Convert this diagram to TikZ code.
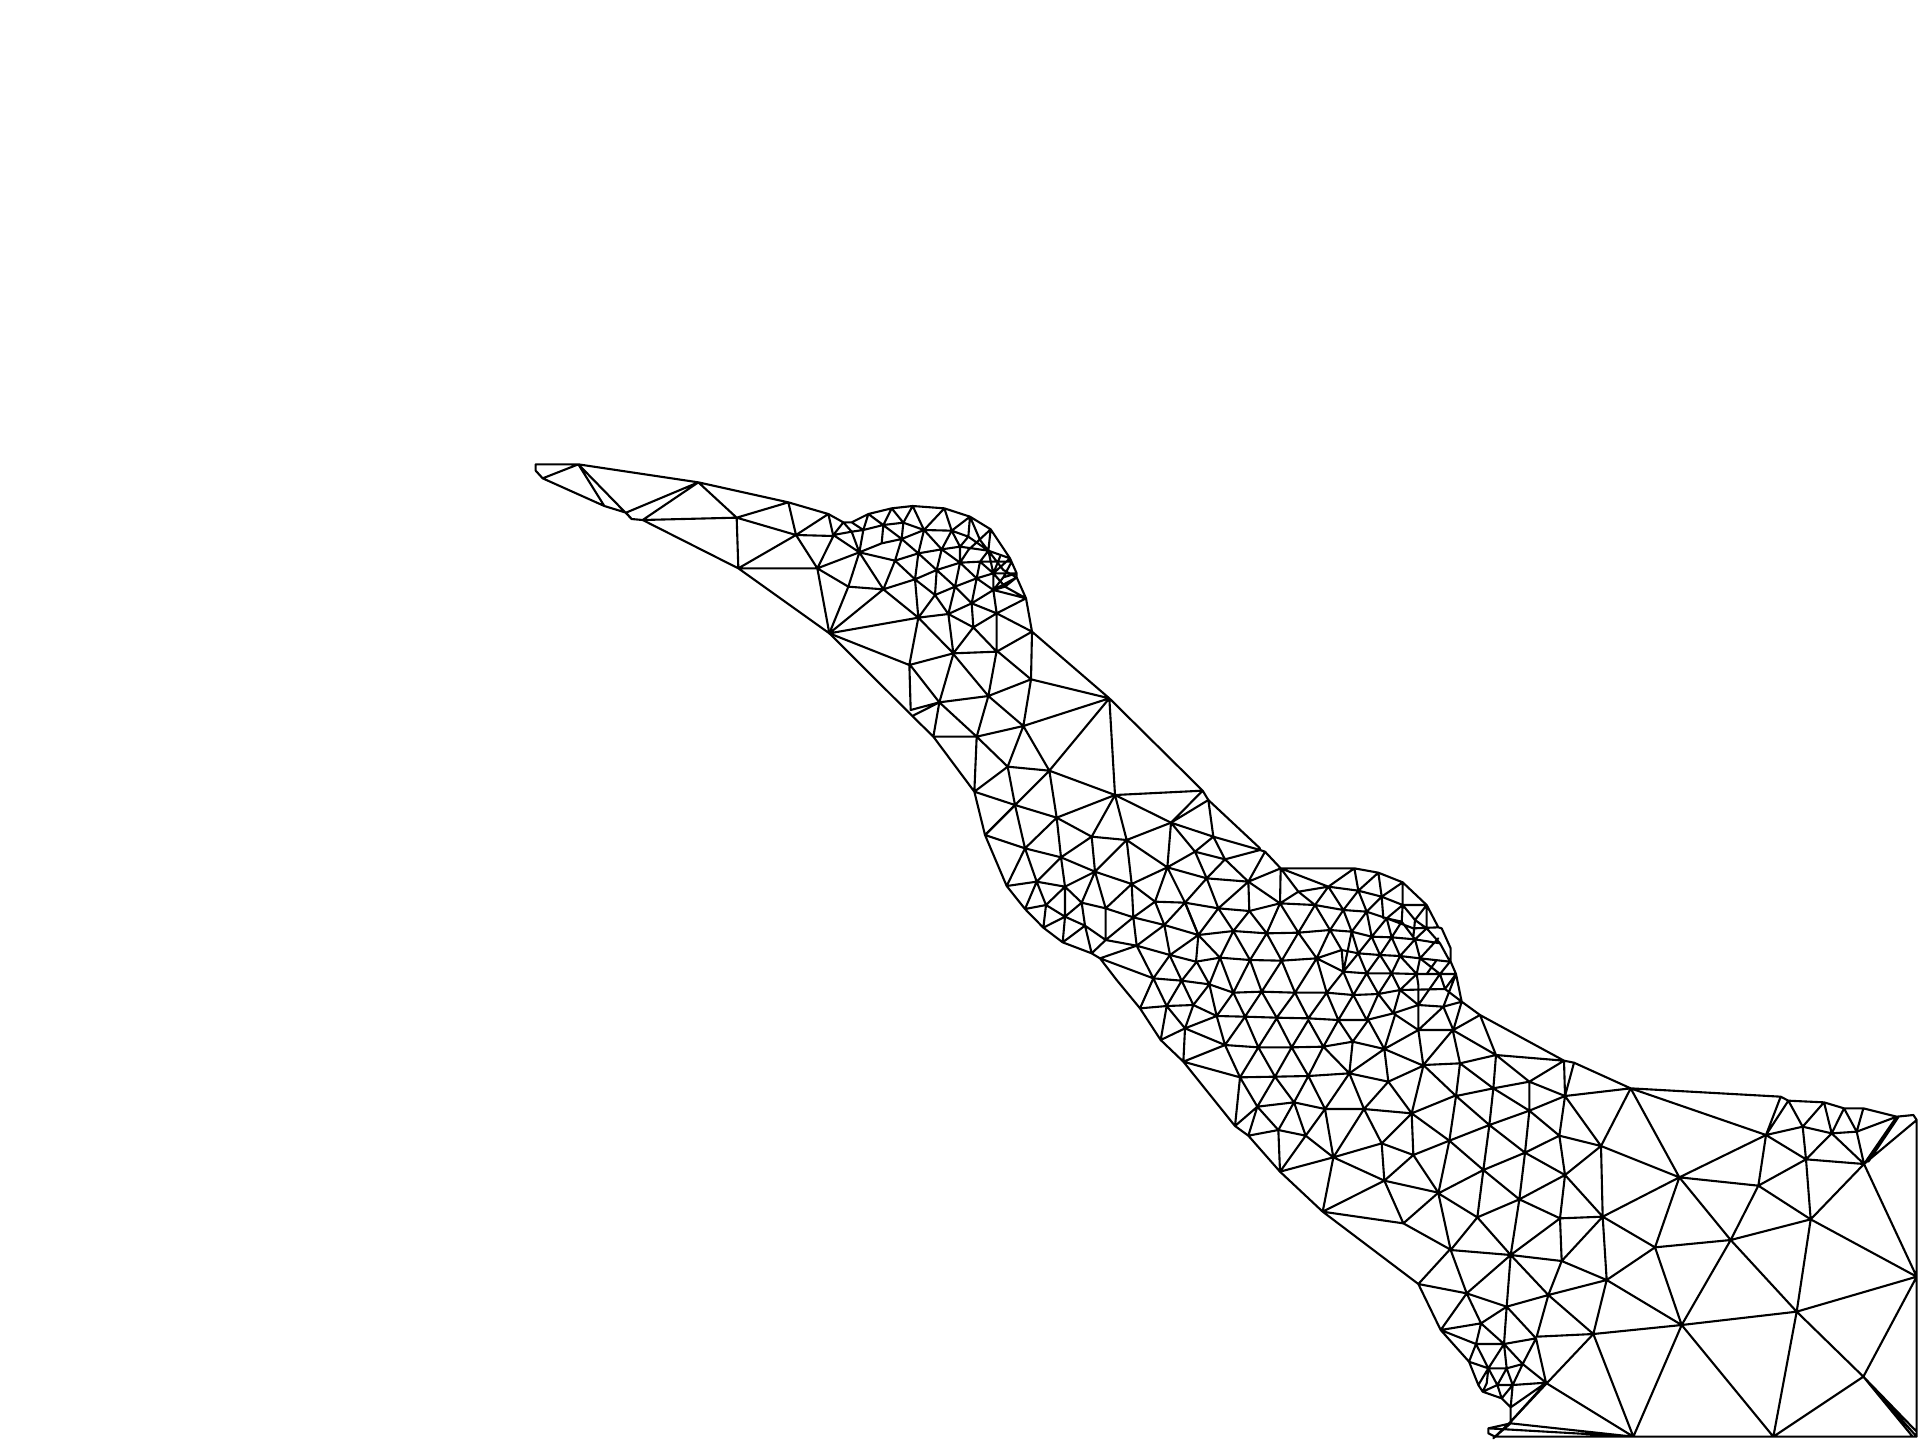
\documentclass[tikz,border=0pt]{standalone}
\tikzset{meshline/.style={draw=black,line width=1.05pt,line join=round,line cap=round},
 zone/.style={shift={(#1)},scale=0.33333}}
\begin{document}
\begin{tikzpicture}[x=0.5pt,y=-0.5pt]
\useasboundingbox[fill=white] (0,0) rectangle (1920,1440);
% Z1
\begin{scope}[zone={520,450}]
\draw[meshline] (47,43)--(175,43)--(535,97)--(805,157)--(925,192)
(47,43)--(47,62)--(68,85)--(175,43)
(68,85)--(253,168)--(318,188)--(335,207)--(368,210)--(655,355)--(928,550)
(175,43)--(253,168) (175,43)--(335,207) (318,188)--(535,97) (368,210)--(535,97) (368,210)--(650,203)--(535,97)
(650,203)--(805,157)--(828,255)--(650,203) (650,203)--(655,355)--(828,255)--(925,192)--(940,258)
(828,255)--(940,258) (655,355)--(892,355)--(828,255) (892,355)--(940,258) (892,355)--(1018,307) (892,355)--(985,410) (892,355)--(928,550);
\end{scope}
% Z2
\begin{scope}[zone={820,490}]
\draw[meshline] (25,72)--(70,97)--(95,97)--(145,72)--(215,55)--(278,48)--(373,55)--(450,80)--(512,118)--(570,205)--(590,250)--(590,262)--(618,325)--(636,425)
(40,135)--(70,97) (40,135)--(95,125)--(130,120)--(190,105)--(250,98)--(312,120)--(395,122)--(445,140)--(505,182)--(570,205)
(40,135)--(118,187)--(85,290)--(28,430) (70,97)--(95,125)--(118,187) (95,97)--(130,120)--(118,187) (130,120)--(145,72)
(118,187)--(185,160)--(245,147)--(312,120) (118,187)--(225,212)--(295,190)--(365,178)--(420,170)--(505,182)
(85,290)--(190,298)--(285,268)--(350,240)--(420,218)--(480,215)--(575,215)
(345,315)--(405,290)--(470,265)--(520,250)--(590,250)
(295,383)--(385,372)--(455,340)--(530,370)--(636,425)
(28,430)--(295,383) (385,372)--(460,412)--(530,370)--(618,325) (455,340)--(520,300)--(590,262) (520,300)--(618,325)
(28,430)--(268,525)--(400,490)--(530,485)--(636,425) (268,525)--(295,383)
(118,187)--(190,298)--(295,383)--(400,490) (145,72)--(245,147)--(295,190)--(350,240)--(405,290)--(455,340)
(225,212)--(285,268)--(345,315)--(385,372) (365,178)--(420,218)--(470,265)--(520,300)
(460,412)--(530,485) (190,298)--(28,430) (190,298)--(225,212) (295,383)--(345,315)
(345,315)--(350,240)--(365,178) (400,490)--(460,412)
(295,383)--(285,268)--(295,190)--(312,120)--(278,48)
(385,372)--(405,290)--(420,218)--(420,170)--(395,122)--(373,55)
(460,412)--(455,340)--(470,265)--(480,215)--(505,182)--(512,118)
(530,370)--(520,300)--(520,250)--(505,182) (400,490)--(385,372) (530,485)--(530,370)
(225,212)--(245,147)--(250,98)--(278,48) (185,160)--(190,105)--(215,55) (190,105)--(145,72)
(215,55)--(250,98) (312,120)--(373,55) (450,80)--(395,122) (450,80)--(445,140)--(420,170)
(512,118)--(445,180)--(420,218) (450,80)--(480,150)--(505,182) (365,178)--(395,122) (312,120)--(365,178)
(505,182)--(550,240)--(590,262) (570,205)--(520,250) (575,215)--(550,262)--(520,300) (540,200)--(520,250)
(520,250)--(555,290) (590,262)--(555,290)--(520,300) (555,290)--(618,325) (590,250)--(550,262) (505,182)--(480,215)
(480,215)--(520,250) (636,425)--(530,485);
\end{scope}
% Z3
\begin{scope}[zone={880,640}]
\draw[meshline] (456,-25)--(688,175)--(968,452)--(985,480)
(456,-25)--(453,118)--(688,175) (-152,-20)--(97,228)--(160,290)--(283,455)
(88,72)--(92,210)--(178,187)--(325,168)--(453,118) (97,228)--(178,187) (88,72)--(178,187)--(290,290)--(383,380)--(283,455)
(383,380)--(508,392)--(430,258) (688,175)--(508,392)--(405,495)--(315,585) (220,42)--(178,187) (220,42)--(325,168)--(430,258)--(453,118)
(325,168)--(290,290)--(430,258)--(688,175) (290,290)--(160,290) (178,187)--(160,290) (290,290)--(283,455)
(383,380)--(405,495) (283,455)--(405,495)--(530,533)--(705,465)--(508,392)--(530,533)
(705,465)--(688,175) (705,465)--(968,452) (705,465)--(873,548) (873,548)--(968,452) (873,548)--(985,480)
(350,32)--(453,118) (350,32)--(325,168) (283,455)--(315,585) (430,258)--(383,380);
\end{scope}
% Z4
\begin{scope}[zone={960,780}]
\draw[meshline] (75,165)--(140,318)--(195,387)--(250,443)--(308,487)--(395,520)--(420,535)--(470,600)
(165,75)--(75,165) (165,75)--(195,205) (290,113)--(195,205) (290,113)--(303,232) (290,113)--(395,170) (465,45)--(395,170) (465,45)--(500,180) (633,128)--(500,180) (633,128)--(622,262) (633,128)--(705,215) (633,128)--(760,170) (745,60)--(760,170) (745,60)--(900,205)
(75,165)--(195,205)--(303,232)--(405,275)--(515,312)--(622,262)
(195,205)--(140,318) (195,205)--(230,305) (395,170)--(500,180) (395,170)--(303,232) (395,170)--(405,275) (500,180)--(405,275) (500,180)--(515,312) (500,180)--(622,262) (622,262)--(705,215)--(760,170) (760,170)--(795,238)--(705,215) (760,170)--(900,210)--(795,238) (795,238)--(740,295) (622,262)--(740,295)--(705,215) (795,238)--(865,305) (622,262)--(585,365) (622,262)--(675,368) (515,312)--(585,365)
(140,318)--(230,305)--(315,320) (230,305)--(303,232)--(315,320)--(405,275) (405,275)--(365,368) (405,275)--(437,385) (365,368)--(437,385)--(515,312)
(230,305)--(195,387)--(258,375)--(230,305) (258,375)--(315,320)--(365,368)--(315,410)--(258,375) (258,375)--(250,443)--(315,410)--(315,320) (315,410)--(308,487) (315,410)--(375,437)
(308,487)--(375,437) (375,437)--(395,520)--(437,480)--(375,437) (365,368)--(375,437) (437,385)--(437,480)--(520,412)--(585,365) (437,385)--(520,412) (515,312)--(520,412)--(530,497) (437,480)--(530,497)--(630,525)--(708,545)--(780,533)--(870,540) (420,535)--(530,497) (520,412)--(613,435)--(585,365) (530,497)--(613,435)--(675,368)--(740,295) (585,365)--(675,368)--(775,385)--(868,393) (613,435)--(715,465)--(630,525)--(613,435) (675,368)--(715,465) (740,295)--(775,385)--(865,305)--(868,393)--(820,453)--(775,385)--(715,465)--(820,453) (715,465)--(780,533)--(820,453)--(870,540) (715,465)--(708,545) (630,525)--(580,595)--(530,497) (420,535)--(580,595) (740,295)--(865,305);
\end{scope}
% Z5
\begin{scope}[zone={1160,850}]
\draw[meshline] (300,0)--(315,5)--(362,55)--(583,55)--(655,68)--(728,97)--(800,165)--(835,232)--(845,235)--(872,295)--(872,335)--(888,372)--(905,455)--(960,495)
(265,95)--(362,55) (265,95)--(315,5)
(268,183)--(360,160)--(465,165)--(550,180)--(620,185)--(680,205)--(760,235)--(835,232)
(415,125)--(505,110)--(595,122)--(665,140)--(728,165)--(800,165)
(220,243)--(320,250)--(415,248)--(510,240)--(575,245)--(635,260)--(695,262)--(765,268)--(840,280)
(270,330)--(365,332)--(470,325)--(545,300)--(595,310)--(660,315)--(720,318)--(780,325)--(870,335)
(470,325)--(550,365)--(620,370)--(695,370)--(770,372)--(888,372)
(-20,385)--(65,392)--(148,403)--(220,428)--(305,425)--(405,428)--(500,428)--(580,435)--(655,432)--(720,420)--(855,417)
(170,498)--(255,500)--(350,503)--(445,505)--(535,510)--(620,510)--(700,490)--(775,465)--(850,470)--(905,455)
(775,540)--(880,540)
(75,157)--(115,255) (268,183)--(320,250) (360,160)--(320,250) (360,160)--(415,248) (465,165)--(415,248) (465,165)--(510,240) (550,180)--(510,240) (550,180)--(575,245) (620,185)--(575,245) (620,185)--(635,260) (680,205)--(635,260) (680,205)--(695,262) (725,215)--(695,262)
(265,95)--(360,160) (362,55)--(360,160) (362,55)--(415,125)--(465,165) (415,125)--(360,160) (505,110)--(465,165) (505,110)--(550,180) (583,55)--(505,110) (362,55)--(505,110) (583,55)--(595,122) (655,68)--(595,122) (595,122)--(550,180) (595,122)--(620,185) (665,140)--(620,185) (655,68)--(665,140)--(670,205) (728,97)--(665,140) (728,97)--(728,165)--(725,215) (728,165)--(680,205) (728,165)--(765,210)--(800,235) (800,165)--(765,210)--(760,260) (800,165)--(800,235)--(840,280)
(320,250)--(270,330) (320,250)--(365,332) (415,248)--(365,332) (415,248)--(470,325) (510,240)--(470,325) (510,240)--(545,300)--(550,365) (575,245)--(550,365) (575,245)--(595,310) (635,260)--(595,310) (635,260)--(660,315) (695,262)--(660,315) (695,262)--(720,318) (765,268)--(720,318) (765,268)--(780,325) (835,265)--(780,325) (840,280)--(870,335) (800,235)--(765,268) (725,215)--(765,268) (680,205)--(725,215)
(110,335)--(65,392) (110,335)--(148,403) (180,323)--(148,403) (180,323)--(220,428) (270,330)--(220,428) (270,330)--(305,425) (30,318)--(65,392) (365,332)--(305,425) (365,332)--(405,428) (470,325)--(405,428) (470,325)--(500,428) (550,365)--(500,428) (550,365)--(580,435) (595,310)--(550,365) (595,310)--(620,370) (660,315)--(620,370) (660,315)--(695,370) (720,318)--(695,370) (720,318)--(770,372) (780,325)--(770,372) (780,325)--(840,372) (830,330)--(800,372) (870,335)--(840,372) (620,370)--(580,435) (620,370)--(655,432) (695,370)--(655,432) (695,370)--(720,420)--(775,465) (770,372)--(720,420) (770,372)--(775,405)--(775,465) (840,372)--(775,465) (888,372)--(850,470) (888,372)--(855,417) (855,417)--(905,455) (840,372)--(855,417)
(65,392)--(20,468) (65,392)--(100,465) (148,403)--(100,465) (148,403)--(170,498) (220,428)--(170,498) (220,428)--(255,500) (305,425)--(255,500) (305,425)--(350,503) (405,428)--(350,503) (405,428)--(445,505) (500,428)--(445,505) (500,428)--(535,510) (580,435)--(535,510) (580,435)--(620,510) (655,432)--(620,510) (655,432)--(700,490) (720,420)--(700,490)
(700,490)--(775,540) (775,465)--(775,540) (850,470)--(880,540) (850,470)--(775,540) (905,455)--(880,540) (960,495)--(880,540);
\end{scope}
% Z6
\begin{scope}[zone={1140,1000}]
\draw[meshline] (-70,-60)--(0,25)--(62,120)--(130,185)--(285,378)--(325,407)--(420,515)
(0,25)--(40,-65)--(80,18) (0,25)--(80,18)--(62,120)--(135,85)--(230,48) (80,18)--(135,85) (160,15)--(135,85) (80,18)--(160,15)--(230,48)
(135,85)--(130,185)--(255,135)--(135,85) (230,48)--(255,135) (130,185)--(300,232)--(255,135)
(255,135)--(355,142)--(455,142)--(550,140)--(638,125)--(733,147)--(850,197)
(315,50)--(255,135) (315,50)--(355,142) (410,55)--(355,142) (410,55)--(455,142) (505,60)--(455,142) (505,60)--(550,140) (595,60)--(550,140) (595,60)--(638,125) (685,60)--(638,125) (685,60)--(733,147) (765,45)--(733,147) (835,90)--(733,147)
(355,142)--(300,232) (355,142)--(405,230) (455,142)--(405,230) (455,142)--(505,228) (550,140)--(505,228) (550,140)--(628,220) (638,125)--(628,220) (733,147)--(628,220) (733,147)--(745,245)--(850,197)
(300,232)--(405,230)--(505,228)--(628,220)--(745,245)
(300,232)--(285,378) (300,232)--(352,320) (405,230)--(352,320) (405,230)--(462,307) (505,228)--(462,307) (505,228)--(555,327) (628,220)--(555,327) (628,220)--(672,327) (745,245)--(672,327) (745,245)--(815,340) (850,197)--(815,340) (835,90)--(850,197)
(815,340)--(950,285)
(352,320)--(462,307)--(555,327)--(672,327)--(815,340)
(285,378)--(352,320)--(325,407) (352,320)--(415,390) (325,407)--(415,390)--(497,407) (415,390)--(420,515) (462,307)--(415,390) (462,307)--(497,407) (555,327)--(497,407) (555,327)--(580,472) (672,327)--(580,472) (672,327)--(725,430) (815,340)--(725,430) (815,340)--(820,465) (815,340)--(928,422) (497,407)--(420,515) (497,407)--(580,472) (420,515)--(580,472)--(725,430)--(820,465)--(928,422)
(820,465)--(895,578) (820,465)--(733,542) (725,430)--(733,542) (580,472)--(733,542)--(895,578);
\end{scope}
% Z7
\begin{scope}[zone={1300,1160}]
\draw[meshline] (-60,35)--(68,155)--(355,372)--(422,510)--(507,605)--(535,675)--(548,695)--(605,715)--(632,742)--(632,785)--(580,835)
(100,-8)--(68,155)--(253,62)--(310,190)--(68,155) (310,190)--(415,98) (310,190)--(450,268) (355,372)--(450,268) (355,372)--(500,400)--(422,510)--(543,490)--(620,440) (500,400)--(620,440) (500,400)--(543,490)
(620,440)--(708,535) (620,440)--(612,552) (708,535)--(612,552)--(528,552)--(422,510) (708,535)--(738,668) (708,535)--(668,612)--(638,675)
(543,490)--(528,552) (543,490)--(612,552) (528,552)--(507,605) (528,552)--(565,625) (612,552)--(565,625) (612,552)--(620,625)--(638,675) (612,552)--(668,612)--(738,668)
(507,605)--(565,625)--(620,625)--(668,612) (565,625)--(535,675) (565,625)--(592,675) (565,625)--(560,670)--(548,695) (620,625)--(592,675)--(605,715) (548,695)--(592,675)--(638,675)--(738,668) (638,675)--(632,742) (738,668)--(632,742) (738,668)--(632,785)
(605,715)--(638,675);
\end{scope}
% Z8
\begin{scope}[zone={1420,1020}]
\draw[meshline] (180,-15)--(432,122)--(462,128)--(632,205)--(1082,230)--(1105,242)--(1212,247)--(1272,265)--(1330,265)--(1430,290)--(1480,285)--(1490,300)--(1490,770)--(1490,1250)--(225,1250)--(205,1240)--(205,1225)--(272,1210)--(640,1250)
(205,1225)--(640,1250) (272,1210)--(225,1250)
(432,122)--(435,228) (462,128)--(435,228) (432,122)--(328,185) (228,105)--(432,122) (228,105)--(328,185)--(435,228) (328,185)--(328,272) (328,185)--(220,205) (228,105)--(220,205) (228,105)--(120,130) (180,-15)--(228,105) (228,105)--(98,30) (98,30)--(120,130) (10,135)--(120,130) (10,135)--(98,30) (120,130)--(108,228) (120,130)--(220,205) (220,205)--(328,272) (220,205)--(208,315) (108,228)--(220,205) (10,135)--(108,228) (108,228)--(208,315) (108,228)--(88,362) (435,228)--(328,272)--(208,315) (328,272)--(418,347) (435,228)--(418,347) (435,228)--(543,378) (435,228)--(632,205) (632,205)--(543,378) (632,205)--(778,472) (632,205)--(1038,345) (418,347)--(543,378) (418,347)--(315,398) (328,272)--(315,398) (208,315)--(315,398) (208,315)--(88,362) (208,315)--(190,450) (88,362)--(190,450) (88,362)--(55,520) (315,398)--(190,450) (315,398)--(298,538) (315,398)--(435,465) (418,347)--(435,465) (543,378)--(435,465) (543,378)--(778,472) (543,378)--(548,590) (435,465)--(298,538) (190,450)--(298,538) (190,450)--(55,520) (190,450)--(172,592)
(55,520)--(172,592) (55,520)--(92,690) (298,538)--(172,592) (298,538)--(272,705) (298,538)--(420,595) (435,465)--(420,595) (435,465)--(548,590) (420,595)--(548,590) (420,595)--(272,705) (420,595)--(425,723) (548,590)--(425,723) (548,590)--(705,682) (548,590)--(778,472) (548,590)--(560,780) (778,472)--(705,682) (778,472)--(932,660) (778,472)--(1015,497) (778,472)--(1038,345) (705,682)--(932,660) (705,682)--(560,780) (705,682)--(785,915)
(172,592)--(92,690) (172,592)--(272,705) (92,690)--(272,705)--(425,723) (92,690)--(140,820) (272,705)--(140,820) (272,705)--(385,825) (272,705)--(260,860) (425,723)--(385,825) (425,723)--(560,780) (560,780)--(385,825) (560,780)--(520,942) (560,780)--(785,915) (385,825)--(260,860) (385,825)--(350,950) (385,825)--(520,942) (520,942)--(785,915) (520,942)--(640,1250) (520,942)--(350,950) (520,942)--(380,1090) (785,915)--(1130,875) (785,915)--(640,1250) (785,915)--(1060,1250) (785,915)--(932,660) (1130,875)--(932,660) (1130,875)--(1490,770) (1130,875)--(1172,598) (1130,875)--(1330,1070) (1130,875)--(1060,1250) (932,660)--(1172,598) (932,660)--(1015,497) (1015,497)--(1172,598) (1015,497)--(1038,345) (1015,497)--(1158,418) (1158,418)--(1172,598) (1172,598)--(1332,432) (1172,598)--(1490,770) (1332,432)--(1490,770) (1332,432)--(1158,418) (1332,432)--(1490,300) (1332,432)--(1430,290) (1332,432)--(1310,335) (1332,432)--(1235,340) (1158,418)--(1235,340) (1158,418)--(1038,345) (1158,418)--(1148,320) (1038,345)--(1148,320)--(1235,340)--(1310,335)--(1430,290) (1038,345)--(1082,230) (1038,345)--(1105,242) (1105,242)--(1148,320) (1148,320)--(1212,247) (1212,247)--(1235,340) (1235,340)--(1272,265) (1272,265)--(1310,335) (1310,335)--(1330,265) (1490,770)--(1330,1070) (1330,1070)--(1060,1250) (1330,1070)--(1490,1250) (1330,1070)--(1478,1250) (1330,1070)--(1490,1235) (380,1090)--(640,1250) (380,1090)--(272,1205)
(1345,425)--(1436,290);
\end{scope}
\end{tikzpicture}
\end{document}
